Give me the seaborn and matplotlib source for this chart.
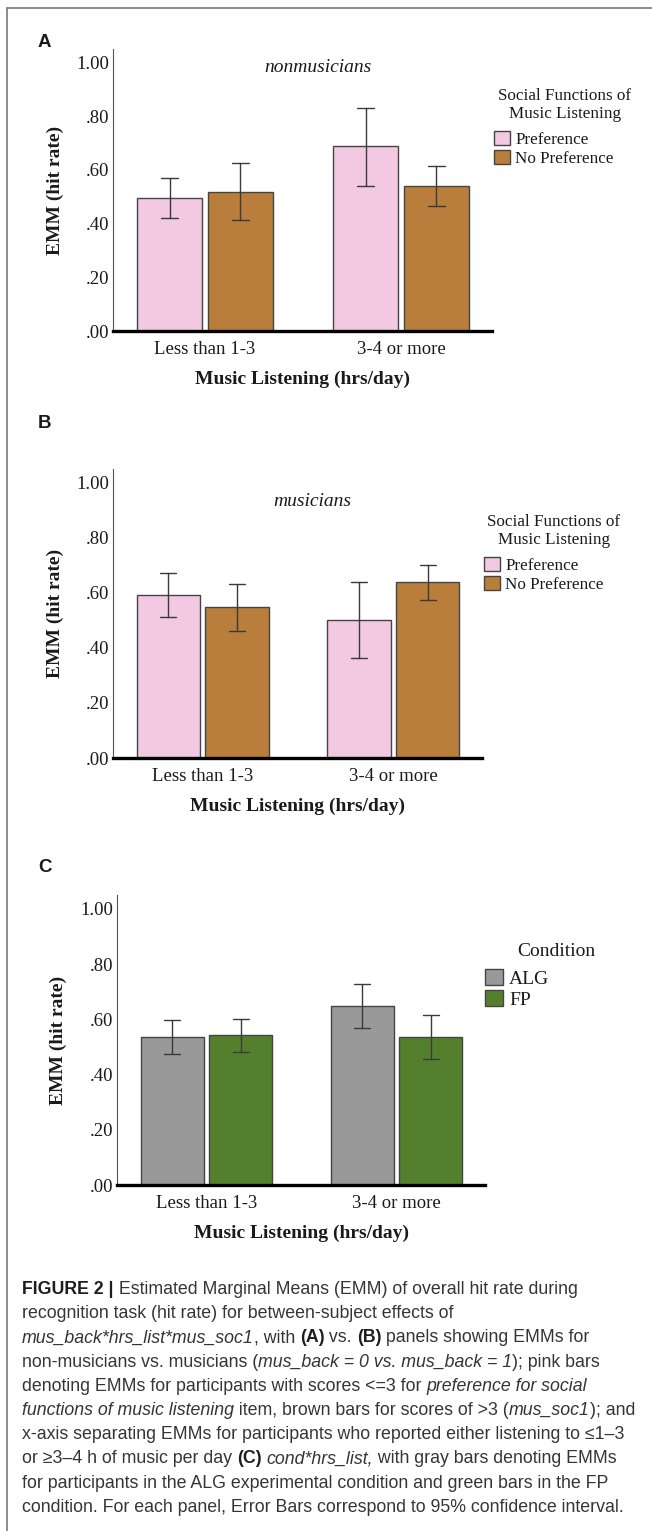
import matplotlib.pyplot as plt
import seaborn as sns
import pandas as pd
from matplotlib.lines import Line2D

# ---- data ----
groups = ["Less than 1-3", "3-4 or more"]
ytick_vals = [0.0, 0.2, 0.4, 0.6, 0.8, 1.0]
ytick_labels = [".00", ".20", ".40", ".60", ".80", "1.00"]

soc_levels = ["Preference", "No Preference"]
cond_levels = ["ALG", "FP"]

# A: nonmusicians
a_pref = [0.494, 0.687]
a_pref_lo = [0.422, 0.540]
a_pref_hi = [0.568, 0.832]
a_nopref = [0.519, 0.539]
a_nopref_lo = [0.414, 0.466]
a_nopref_hi = [0.626, 0.615]

# B: musicians
b_pref = [0.592, 0.502]
b_pref_lo = [0.513, 0.364]
b_pref_hi = [0.672, 0.640]
b_nopref = [0.547, 0.638]
b_nopref_lo = [0.462, 0.573]
b_nopref_hi = [0.633, 0.703]

# C: condition
c_alg = [0.537, 0.648]
c_alg_lo = [0.475, 0.567]
c_alg_hi = [0.599, 0.728]
c_fp = [0.542, 0.537]
c_fp_lo = [0.481, 0.458]
c_fp_hi = [0.602, 0.615]

pink = "#f2c8e2"
brown = "#b97e3b"
gray = "#999999"
green = "#54802e"


def long_df(series):
    # three rows per bar: lower CI, EMM, upper CI  -> median = EMM, min/max = CI
    rows = []
    for name, (mean, lo, hi) in series.items():
        for g, m, l, h in zip(groups, mean, lo, hi):
            for v in (l, m, h):
                rows.append({"hrs": g, "grp": name, "emm": v})
    return pd.DataFrame(rows)


df_a = long_df({"Preference": (a_pref, a_pref_lo, a_pref_hi),
                "No Preference": (a_nopref, a_nopref_lo, a_nopref_hi)})
df_b = long_df({"Preference": (b_pref, b_pref_lo, b_pref_hi),
                "No Preference": (b_nopref, b_nopref_lo, b_nopref_hi)})
df_c = long_df({"ALG": (c_alg, c_alg_lo, c_alg_hi),
                "FP": (c_fp, c_fp_lo, c_fp_hi)})

sns.set_style("white")
plt.rcParams['font.family'] = ['Liberation Serif', 'DejaVu Serif']

W, H = 652, 1531
fig = plt.figure(figsize=(W / 100, H / 100), dpi=100)
txt = "#1a1a1a"


def px_rect(left, top, right, bottom):
    return [left / W, 1 - bottom / H, (right - left) / W, (bottom - top) / H]


def panel(rect_px, df, levels, colors, leg_title, title_xy, leg_xy, leg_size, ylab_x,
          title=None, title_y=None):
    ax = fig.add_axes(px_rect(*rect_px))
    sns.barplot(data=df, x="hrs", y="emm", hue="grp", order=groups, hue_order=levels,
                palette=colors, saturation=1, estimator="median",
                errorbar=lambda v: (v.min(), v.max()),
                width=0.72, gap=0.08, capsize=0.17,
                edgecolor="#444444", linewidth=1,
                err_kws={"color": "#3a3a3a", "linewidth": 1}, ax=ax)
    ax.set_ylim(0, 1.05)
    ax.set_xlim(-0.47, 1.465)
    ax.set_yticks(ytick_vals)
    ax.set_yticklabels(ytick_labels)
    ax.tick_params(axis="both", length=0, labelsize=13.5, colors=txt)
    ax.tick_params(axis="y", pad=3)
    ax.tick_params(axis="x", pad=7)
    sns.despine(ax=ax)
    ax.spines["left"].set_color("#555555")
    ax.spines["left"].set_linewidth(0.8)
    ax.spines["bottom"].set_color("black")
    ax.spines["bottom"].set_linewidth(2.4)
    ax.set_xlabel("Music Listening (hrs/day)", fontsize=14, fontweight="bold", color=txt)
    ax.set_ylabel("EMM (hit rate)", fontsize=14, fontweight="bold", color=txt)
    width_px = rect_px[2] - rect_px[0]
    height_px = rect_px[3] - rect_px[1]
    ax.yaxis.set_label_coords((ylab_x - rect_px[0]) / width_px, 0.5)
    ax.xaxis.set_label_coords(0.5, -40 / height_px)
    if title:
        ax.text(0.54, title_y, title, transform=ax.transAxes, ha="center", va="center",
                fontsize=14, style="italic", color=txt)
    handles, labels = ax.get_legend_handles_labels()
    ax.legend(handles, labels, loc="upper left",
              bbox_to_anchor=(leg_xy[0] / W, 1 - leg_xy[1] / H), bbox_transform=fig.transFigure,
              frameon=False, fontsize=leg_size, borderpad=0, borderaxespad=0,
              handlelength=0.95, handleheight=0.92, handletextpad=0.3,
              labelspacing=0.1, labelcolor=txt)
    fig.text(title_xy[0] / W, 1 - title_xy[1] / H, leg_title, ha="center", va="center",
             multialignment="center", linespacing=1.12, fontsize=leg_size, color=txt)
    return ax


panel((113, 49, 492, 331), df_a, soc_levels, [pink, brown],
      "Social Functions of\nMusic Listening", (565, 105), (494, 131), 12.3, 64,
      title="nonmusicians", title_y=0.936)
panel((113, 469, 482, 758), df_b, soc_levels, [pink, brown],
      "Social Functions of\nMusic Listening", (554, 531), (484, 557), 12.3, 64,
      title="musicians", title_y=0.886)
panel((117, 895, 485, 1185), df_c, cond_levels, [gray, green],
      "Condition", (556, 952), (485, 969), 14, 67)

# panel letters
for letter, y in (("A", 47), ("B", 428), ("C", 872)):
    fig.text(38 / W, 1 - y / H, letter, fontsize=13.5, fontweight="bold",
             family=["Liberation Sans", "DejaVu Sans"], va="baseline", color=txt)

# outer frame
fig.add_artist(Line2D([7 / W, 1], [1 - 8 / H, 1 - 8 / H], transform=fig.transFigure,
                      color="#7a7a7a", linewidth=1.2))
fig.add_artist(Line2D([7 / W, 7 / W], [0, 1 - 8 / H], transform=fig.transFigure,
                      color="#7a7a7a", linewidth=1.2))

# caption, written as styled runs per line
cap_lines = [
    [("b", "FIGURE 2 |"), ("r", " Estimated Marginal Means (EMM) of overall hit rate during")],
    [("r", "recognition task (hit rate) for between-subject effects of")],
    [("i", "mus_back*hrs_list*mus_soc1"), ("r", ", with "), ("b", "(A)"), ("r", " vs. "),
     ("b", "(B)"), ("r", " panels showing EMMs for")],
    [("r", "non-musicians vs. musicians ("), ("i", "mus_back = 0 vs. mus_back = 1"),
     ("r", "); pink bars")],
    [("r", "denoting EMMs for participants with scores <=3 for "),
     ("i", "preference for social")],
    [("i", "functions of music listening"), ("r", " item, brown bars for scores of >3 ("),
     ("i", "mus_soc1"), ("r", "); and")],
    [("r", "x-axis separating EMMs for participants who reported either listening to \u22641\u20133")],
    [("r", "or \u22653\u20134 h of music per day "), ("b", "(C)"), ("r", " "), ("i", "cond*hrs_list,"),
     ("r", " with gray bars denoting EMMs")],
    [("r", "for participants in the ALG experimental condition and green bars in the FP")],
    [("r", "condition. For each panel, Error Bars correspond to 95% confidence interval.")],
]
cap_font = ["Liberation Sans Narrow", "Liberation Sans", "DejaVu Sans"]
cap_size = 12.8
styles = {"r": dict(fontweight="normal", style="normal", color="#353535"),
          "b": dict(fontweight="bold", style="normal", color="#1e1e1e"),
          "i": dict(fontweight="normal", style="italic", color="#353535")}
renderer = fig.canvas.get_renderer()


def run_width(s, kind):
    t1 = fig.text(0, 0, "|" + s + "|", fontsize=cap_size, family=cap_font, **styles[kind])
    t2 = fig.text(0, 0, "||", fontsize=cap_size, family=cap_font, **styles[kind])
    w = t1.get_window_extent(renderer).width - t2.get_window_extent(renderer).width
    t1.remove()
    t2.remove()
    return w


for i, runs in enumerate(cap_lines):
    x = 22.0
    y = 1294 + 24.2 * i
    for kind, s in runs:
        fig.text(x / W, 1 - y / H, s, fontsize=cap_size, family=cap_font,
                 va="baseline", ha="left", **styles[kind])
        x += run_width(s, kind)

fig.savefig("out.png", dpi=100)
